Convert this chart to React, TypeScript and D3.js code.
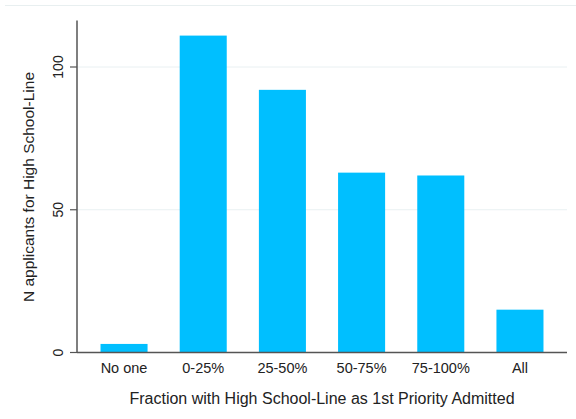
import React from "react";
import * as d3 from "d3";

const categories = ["No one", "0-25%", "25-50%", "50-75%", "75-100%", "All"];
const values = [3, 111, 92, 63, 62, 15];
const yTicks = [0, 50, 100];
const xTitle = "Fraction with High School-Line as 1st Priority Admitted";
const yTitle = "N applicants for High School-Line";

export default function App() {
  const W = 576, H = 419;
  const x0 = 77, x1 = 567, yBase = 352.5;
  const x = d3.scaleBand<string>().domain(categories).range([x0, x1]).paddingInner(0.406).paddingOuter(0.297);
  const y = d3.scaleLinear().domain([0, 100]).range([yBase, 67]);
  const font = "Liberation Sans, Arial, sans-serif";
  return (
    <svg width={W} height={H} style={{ position: "absolute", left: 0, top: 0, background: "#fff" }} fontFamily={font}>
      <rect x={0} y={0} width={W} height={H} fill="#fff" />
      <line x1={5} x2={576} y1={5.5} y2={5.5} stroke="#e8eff0" strokeWidth={1} />
      {yTicks.filter(t => t > 0).map(t => (
        <line key={"g" + t} x1={x0} x2={x1} y1={y(t)} y2={y(t)} stroke="#e9f0f2" strokeWidth={1} />
      ))}
      {categories.map((c, i) => (
        <rect key={c} x={x(c)} y={y(values[i])} width={x.bandwidth()} height={yBase - y(values[i])} fill="#00BFFF" />
      ))}
      <line x1={x0} x2={x0} y1={20.5} y2={yBase} stroke="#555" strokeWidth={1.5} />
      <line x1={x0} x2={x1} y1={yBase} y2={yBase} stroke="#555" strokeWidth={1.5} />
      {yTicks.map(t => (
        <g key={"t" + t}>
          <line x1={70} x2={x0} y1={y(t)} y2={y(t)} stroke="#555" strokeWidth={1.2} />
          <text transform={`translate(63,${y(t)}) rotate(-90)`} textAnchor="middle" fontSize={14} fill="#222">{t}</text>
        </g>
      ))}
      {categories.map(c => (
        <text key={"l" + c} x={(x(c) as number) + x.bandwidth() / 2} y={373} textAnchor="middle" fontSize={14.5} fill="#222">{c}</text>
      ))}
      <text x={322} y={404} textAnchor="middle" fontSize={16} fill="#222">{xTitle}</text>
      <text transform={`translate(33.5,187) rotate(-90)`} textAnchor="middle" fontSize={15.5} fill="#222">{yTitle}</text>
    </svg>
  );
}
